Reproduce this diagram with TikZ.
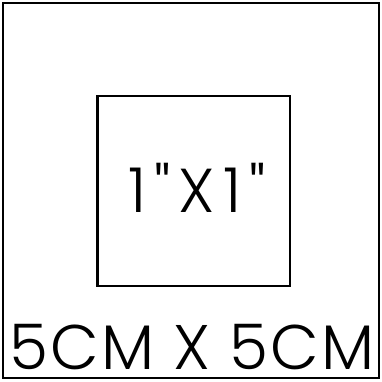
\documentclass[tikz,border=0pt]{standalone}
\usepackage{fontspec}
\setmainfont{Poppins}[UprightFont=* Light]
\newfontfamily\widefont{Poppins}[UprightFont=* Light, LetterSpace=3.5]
\newfontfamily\widerfont{Poppins}[UprightFont=* Light, LetterSpace=13]
\usepackage{tikz}
\usetikzlibrary{positioning}
\tikzset{
  box/.style={draw=black, line width=2.8pt},
  bigtext/.style={inner sep=0pt, anchor=base, font=\widefont\fontsize{63}{63}\selectfont},
  midtext/.style={inner sep=0pt, anchor=base, font=\widerfont\fontsize{62}{62}\selectfont}
}

\begin{document}
\begin{tikzpicture}[x=1pt, y=1pt]
    \useasboundingbox (0,0) rectangle (382,381);

    \draw[box] (3,3) rectangle (379,378);
    \draw[box] (97.5,95) rectangle (290,285);

    \node[midtext] (label) at (197,169) {1"X1"};
    \node[bigtext] (size) at (192,12) {5CM X 5CM};
\end{tikzpicture}
\end{document}
